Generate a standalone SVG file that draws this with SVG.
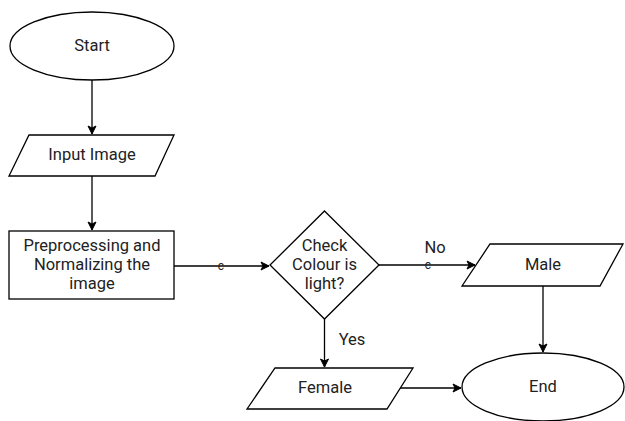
<svg xmlns="http://www.w3.org/2000/svg" width="625" height="421" viewBox="0 0 625 421">
<defs>
<marker id="ah" markerWidth="10" markerHeight="10" refX="9" refY="5" orient="auto" markerUnits="userSpaceOnUse">
<path d="M1,1 L9,5 L1,9 L3,5 Z" fill="#000" stroke="#000" stroke-width="1"/>
</marker>
<style>
.s{fill:#fff;stroke:#000;stroke-width:1.3}
.t{font-family:Roboto,"Liberation Sans",Arial,sans-serif;font-size:16.5px;fill:#222;text-anchor:middle;dominant-baseline:central}
.c{stroke:#000;stroke-width:1.3;fill:none}
</style>
</defs>
<rect width="625" height="421" fill="#fff"/>
<g id="connectors">
<line class="c" x1="92" y1="80" x2="92" y2="134" marker-end="url(#ah)"/>
<line class="c" x1="92" y1="176" x2="92" y2="230" marker-end="url(#ah)"/>
<line class="c" x1="174" y1="266" x2="269" y2="266" marker-end="url(#ah)"/>
<text class="t" x="221" y="266" style="font-size:12px">c</text>
<line class="c" x1="379" y1="265" x2="475" y2="265" marker-end="url(#ah)"/>
<text class="t" x="428" y="265" style="font-size:12px">c</text>
<text class="t" x="435" y="247">No</text>
<line class="c" x1="324.5" y1="319" x2="324.5" y2="367" marker-end="url(#ah)"/>
<text class="t" x="352" y="339">Yes</text>
<line class="c" x1="543" y1="286" x2="543" y2="352" marker-end="url(#ah)"/>
<line class="c" x1="400" y1="388" x2="461" y2="388" marker-end="url(#ah)"/>
</g>
<g id="start">
<ellipse class="s" cx="92" cy="46" rx="82" ry="34"/>
<text class="t" x="92" y="45">Start</text>
</g>
<g id="input">
<polygon class="s" points="29,135 174,135 155,176 9,176"/>
<text class="t" x="92" y="154">Input Image</text>
</g>
<g id="preprocess">
<rect class="s" x="9" y="231" width="165" height="68"/>
<text class="t" x="92" y="245">Preprocessing and</text>
<text class="t" x="92" y="264">Normalizing the</text>
<text class="t" x="92" y="283">image</text>
</g>
<g id="decision">
<polygon class="s" points="324.5,211 379,265 324.5,319 270,265"/>
<text class="t" x="324.5" y="245">Check</text>
<text class="t" x="324.5" y="264">Colour is</text>
<text class="t" x="324.5" y="283">light?</text>
</g>
<g id="male">
<polygon class="s" points="490,244 623,244 600,286 462,286"/>
<text class="t" x="543" y="264">Male</text>
</g>
<g id="female">
<polygon class="s" points="275,368 413,368 387,409 247,409"/>
<text class="t" x="325" y="387">Female</text>
</g>
<g id="end">
<ellipse class="s" cx="543" cy="387" rx="81" ry="34"/>
<text class="t" x="543" y="386">End</text>
</g>
</svg>
